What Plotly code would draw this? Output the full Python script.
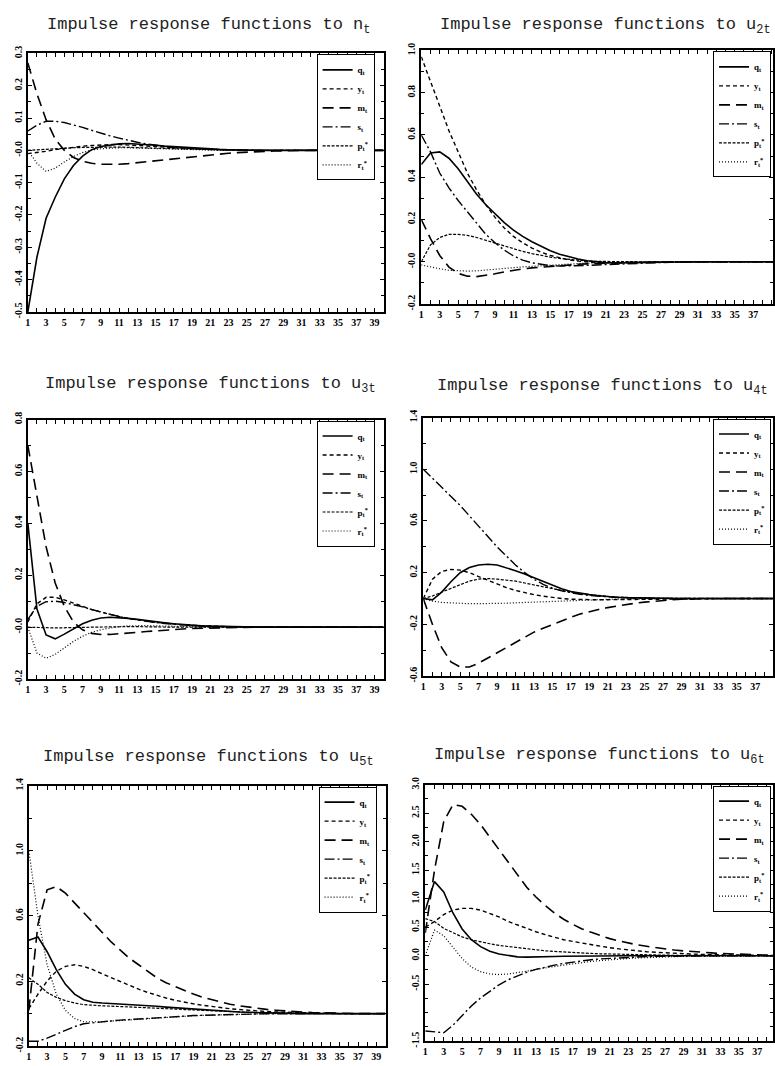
import plotly.graph_objects as go

periods = list(range(1, 41))
var_names = ["q<sub>t</sub>", "y<sub>t</sub>", "m<sub>t</sub>", "s<sub>t</sub>",
             "p<sub>t</sub><sup>*</sup>", "r<sub>t</sub><sup>*</sup>"]
shock_titles = ["n<sub>t</sub>", "u<sub>2t</sub>", "u<sub>3t</sub>",
                "u<sub>4t</sub>", "u<sub>5t</sub>", "u<sub>6t</sub>"]
x_tick_vals = list(range(1, 40, 2))
x_tick_text = [str(v) for v in x_tick_vals]

# ---- Panel 1: shock n_t ----
q1 = [-0.50, -0.33, -0.21, -0.145, -0.088, -0.047, -0.018, 0.002, 0.012, 0.017,
      0.020, 0.021, 0.020, 0.018, 0.016, 0.013, 0.011, 0.009, 0.007, 0.005,
      0.004, 0.003, 0.002, 0.001, 0.001, 0.0, 0.0, 0.0, 0.0, 0.0,
      0.0, 0.0, 0.0, 0.0, 0.0, 0.0, 0.0, 0.0, 0.0, 0.0]
y1 = [-0.010, -0.007, -0.003, 0.002, 0.006, 0.010, 0.013, 0.015, 0.017, 0.018,
      0.018, 0.017, 0.016, 0.014, 0.012, 0.010, 0.008, 0.007, 0.005, 0.004,
      0.003, 0.002, 0.002, 0.001, 0.001, 0.0, 0.0, 0.0, 0.0, 0.0,
      0.0, 0.0, 0.0, 0.0, 0.0, 0.0, 0.0, 0.0, 0.0, 0.0]
m1 = [0.27, 0.175, 0.095, 0.035, 0.0, -0.022, -0.034, -0.040, -0.043, -0.044,
      -0.043, -0.041, -0.038, -0.035, -0.031, -0.028, -0.025, -0.022, -0.019, -0.016,
      -0.013, -0.011, -0.009, -0.007, -0.005, -0.004, -0.003, -0.002, -0.001, 0.0,
      0.0, 0.0, 0.0, 0.0, 0.0, 0.0, 0.0, 0.0, 0.0, 0.0]
s1 = [0.060, 0.078, 0.090, 0.090, 0.086, 0.079, 0.071, 0.062, 0.053, 0.045,
      0.038, 0.031, 0.025, 0.020, 0.016, 0.012, 0.009, 0.007, 0.005, 0.004,
      0.003, 0.002, 0.001, 0.0, 0.0, 0.0, 0.0, 0.0, 0.0, 0.0,
      0.0, 0.0, 0.0, 0.0, 0.0, 0.0, 0.0, 0.0, 0.0, 0.0]
p1 = [0.000, 0.002, 0.004, 0.006, 0.007, 0.008, 0.009, 0.010, 0.010, 0.010,
      0.010, 0.009, 0.009, 0.008, 0.007, 0.006, 0.005, 0.004, 0.003, 0.003,
      0.002, 0.002, 0.001, 0.001, 0.0, 0.0, 0.0, 0.0, 0.0, 0.0,
      0.0, 0.0, 0.0, 0.0, 0.0, 0.0, 0.0, 0.0, 0.0, 0.0]
r1 = [0.000, -0.040, -0.065, -0.055, -0.036, -0.019, -0.007, 0.001, 0.005, 0.007,
      0.008, 0.008, 0.007, 0.006, 0.005, 0.004, 0.003, 0.002, 0.002, 0.001,
      0.001, 0.0, 0.0, 0.0, 0.0, 0.0, 0.0, 0.0, 0.0, 0.0,
      0.0, 0.0, 0.0, 0.0, 0.0, 0.0, 0.0, 0.0, 0.0, 0.0]

# ---- Panel 2: shock u2t ----
q2 = [0.46, 0.515, 0.52, 0.49, 0.44, 0.38, 0.32, 0.27, 0.225, 0.185,
      0.15, 0.12, 0.095, 0.072, 0.052, 0.036, 0.023, 0.013, 0.005, 0.0,
      -0.004, -0.006, -0.006, -0.005, -0.004, -0.003, -0.002, -0.001, 0.0, 0.0,
      0.0, 0.0, 0.0, 0.0, 0.0, 0.0, 0.0, 0.0, 0.0, 0.0]
y2 = [0.97, 0.85, 0.73, 0.62, 0.52, 0.42, 0.34, 0.27, 0.21, 0.16,
      0.12, 0.09, 0.065, 0.045, 0.03, 0.018, 0.009, 0.003, -0.001, -0.004,
      -0.005, -0.005, -0.004, -0.003, -0.002, -0.001, 0.0, 0.0, 0.0, 0.0,
      0.0, 0.0, 0.0, 0.0, 0.0, 0.0, 0.0, 0.0, 0.0, 0.0]
m2 = [0.20, 0.11, 0.03, -0.025, -0.055, -0.068, -0.07, -0.065, -0.057, -0.048,
      -0.04, -0.034, -0.029, -0.025, -0.021, -0.018, -0.015, -0.012, -0.01, -0.008,
      -0.006, -0.005, -0.004, -0.003, -0.002, -0.001, 0.0, 0.0, 0.0, 0.0,
      0.0, 0.0, 0.0, 0.0, 0.0, 0.0, 0.0, 0.0, 0.0, 0.0]
s2 = [0.60, 0.52, 0.42, 0.35, 0.29, 0.235, 0.18, 0.13, 0.09, 0.055,
      0.028, 0.008, -0.005, -0.013, -0.018, -0.02, -0.02, -0.019, -0.017, -0.015,
      -0.013, -0.011, -0.009, -0.007, -0.005, -0.004, -0.003, -0.002, -0.001, 0.0,
      0.0, 0.0, 0.0, 0.0, 0.0, 0.0, 0.0, 0.0, 0.0, 0.0]
p2 = [0.0, 0.08, 0.115, 0.13, 0.13, 0.125, 0.115, 0.102, 0.088, 0.074,
      0.061, 0.049, 0.039, 0.03, 0.022, 0.016, 0.011, 0.007, 0.004, 0.002,
      0.001, 0.0, 0.0, 0.0, 0.0, 0.0, 0.0, 0.0, 0.0, 0.0,
      0.0, 0.0, 0.0, 0.0, 0.0, 0.0, 0.0, 0.0, 0.0, 0.0]
r2 = [-0.015, -0.025, -0.033, -0.04, -0.043, -0.044, -0.043, -0.04, -0.036, -0.032,
      -0.028, -0.024, -0.021, -0.018, -0.015, -0.012, -0.01, -0.008, -0.006, -0.005,
      -0.004, -0.003, -0.002, -0.001, 0.0, 0.0, 0.0, 0.0, 0.0, 0.0,
      0.0, 0.0, 0.0, 0.0, 0.0, 0.0, 0.0, 0.0, 0.0, 0.0]

# ---- Panel 3: shock u3t ----
q3 = [0.40, 0.07, -0.03, -0.045, -0.027, -0.006, 0.013, 0.027, 0.035, 0.038,
      0.037, 0.034, 0.03, 0.025, 0.021, 0.017, 0.013, 0.01, 0.007, 0.005,
      0.004, 0.003, 0.002, 0.001, 0.0, 0.0, 0.0, 0.0, 0.0, 0.0,
      0.0, 0.0, 0.0, 0.0, 0.0, 0.0, 0.0, 0.0, 0.0, 0.0]
y3 = [0.02, 0.09, 0.115, 0.115, 0.105, 0.092, 0.08, 0.068, 0.058, 0.049,
      0.041, 0.034, 0.028, 0.023, 0.019, 0.015, 0.012, 0.009, 0.007, 0.005,
      0.004, 0.003, 0.002, 0.001, 0.0, 0.0, 0.0, 0.0, 0.0, 0.0,
      0.0, 0.0, 0.0, 0.0, 0.0, 0.0, 0.0, 0.0, 0.0, 0.0]
m3 = [0.70, 0.50, 0.31, 0.17, 0.08, 0.02, -0.01, -0.024, -0.028, -0.028,
      -0.026, -0.023, -0.02, -0.017, -0.014, -0.011, -0.009, -0.007, -0.005, -0.004,
      -0.003, -0.002, -0.001, 0.0, 0.0, 0.0, 0.0, 0.0, 0.0, 0.0,
      0.0, 0.0, 0.0, 0.0, 0.0, 0.0, 0.0, 0.0, 0.0, 0.0]
s3 = [0.03, 0.08, 0.098, 0.1, 0.095, 0.087, 0.078, 0.068, 0.058, 0.049,
      0.041, 0.034, 0.028, 0.023, 0.018, 0.014, 0.011, 0.008, 0.006, 0.004,
      0.003, 0.002, 0.001, 0.0, 0.0, 0.0, 0.0, 0.0, 0.0, 0.0,
      0.0, 0.0, 0.0, 0.0, 0.0, 0.0, 0.0, 0.0, 0.0, 0.0]
p3 = [0.0, 0.0, -0.002, -0.003, -0.003, -0.002, -0.001, 0.0, 0.001, 0.002,
      0.002, 0.002, 0.002, 0.001, 0.001, 0.0, 0.0, 0.0, 0.0, 0.0,
      0.0, 0.0, 0.0, 0.0, 0.0, 0.0, 0.0, 0.0, 0.0, 0.0,
      0.0, 0.0, 0.0, 0.0, 0.0, 0.0, 0.0, 0.0, 0.0, 0.0]
r3 = [0.0, -0.10, -0.12, -0.105, -0.08, -0.055, -0.035, -0.02, -0.01, -0.003,
      0.002, 0.005, 0.006, 0.006, 0.005, 0.004, 0.003, 0.002, 0.001, 0.0,
      0.0, 0.0, 0.0, 0.0, 0.0, 0.0, 0.0, 0.0, 0.0, 0.0,
      0.0, 0.0, 0.0, 0.0, 0.0, 0.0, 0.0, 0.0, 0.0, 0.0]

# ---- Panel 4: shock u4t ----
q4 = [0.0, -0.01, 0.05, 0.13, 0.2, 0.24, 0.26, 0.265, 0.26, 0.24,
      0.215, 0.19, 0.16, 0.13, 0.1, 0.075, 0.055, 0.04, 0.03, 0.022,
      0.015, 0.01, 0.007, 0.005, 0.003, 0.002, 0.001, 0.0, 0.0, 0.0,
      0.0, 0.0, 0.0, 0.0, 0.0, 0.0, 0.0, 0.0, 0.0, 0.0]
y4 = [0.0, 0.15, 0.21, 0.225, 0.22, 0.2, 0.17, 0.14, 0.11, 0.085,
      0.063, 0.045, 0.03, 0.018, 0.008, 0.0, -0.005, -0.008, -0.01, -0.01,
      -0.009, -0.008, -0.006, -0.005, -0.003, -0.002, -0.001, 0.0, 0.0, 0.0,
      0.0, 0.0, 0.0, 0.0, 0.0, 0.0, 0.0, 0.0, 0.0, 0.0]
m4 = [0.0, -0.2, -0.38, -0.49, -0.53, -0.53, -0.5, -0.46, -0.42, -0.38,
      -0.34, -0.3, -0.26, -0.23, -0.2, -0.17, -0.145, -0.12, -0.1, -0.085,
      -0.07, -0.057, -0.046, -0.036, -0.028, -0.021, -0.015, -0.01, -0.006, -0.003,
      -0.001, 0.0, 0.0, 0.0, 0.0, 0.0, 0.0, 0.0, 0.0, 0.0]
s4 = [1.0, 0.93, 0.86, 0.79, 0.72, 0.64, 0.56, 0.48, 0.4, 0.33,
      0.26, 0.2, 0.15, 0.11, 0.08, 0.06, 0.045, 0.033, 0.024, 0.017,
      0.012, 0.008, 0.005, 0.003, 0.002, 0.001, 0.0, 0.0, 0.0, 0.0,
      0.0, 0.0, 0.0, 0.0, 0.0, 0.0, 0.0, 0.0, 0.0, 0.0]
p4 = [0.0, 0.02, 0.05, 0.08, 0.11, 0.135, 0.15, 0.155, 0.15, 0.145,
      0.135, 0.12, 0.105, 0.09, 0.075, 0.06, 0.048, 0.038, 0.03, 0.023,
      0.017, 0.012, 0.008, 0.005, 0.003, 0.002, 0.001, 0.0, 0.0, 0.0,
      0.0, 0.0, 0.0, 0.0, 0.0, 0.0, 0.0, 0.0, 0.0, 0.0]
r4 = [0.0, -0.02, -0.03, -0.035, -0.038, -0.04, -0.04, -0.04, -0.038, -0.036,
      -0.033, -0.03, -0.027, -0.023, -0.02, -0.017, -0.014, -0.011, -0.009, -0.007,
      -0.005, -0.004, -0.003, -0.002, -0.001, 0.0, 0.0, 0.0, 0.0, 0.0,
      0.0, 0.0, 0.0, 0.0, 0.0, 0.0, 0.0, 0.0, 0.0, 0.0]

# ---- Panel 5: shock u5t ----
q5 = [0.45, 0.47, 0.38, 0.27, 0.18, 0.12, 0.085, 0.07, 0.065, 0.062,
      0.06, 0.057, 0.053, 0.049, 0.045, 0.04, 0.036, 0.031, 0.027, 0.023,
      0.019, 0.016, 0.013, 0.01, 0.008, 0.006, 0.004, 0.003, 0.002, 0.001,
      0.0, 0.0, 0.0, 0.0, 0.0, 0.0, 0.0, 0.0, 0.0, 0.0]
y5 = [0.03, 0.12, 0.2, 0.26, 0.29, 0.3, 0.29, 0.27, 0.245, 0.22,
      0.195, 0.17, 0.15, 0.13, 0.112, 0.096, 0.082, 0.07, 0.06, 0.051,
      0.043, 0.036, 0.03, 0.025, 0.02, 0.016, 0.013, 0.01, 0.008, 0.006,
      0.004, 0.003, 0.002, 0.001, 0.0, 0.0, 0.0, 0.0, 0.0, 0.0]
m5 = [0.02, 0.55, 0.76, 0.78, 0.74, 0.68, 0.62, 0.56, 0.5, 0.44,
      0.39, 0.34, 0.3, 0.26, 0.22, 0.19, 0.165, 0.14, 0.12, 0.1,
      0.085, 0.07, 0.058, 0.048, 0.04, 0.032, 0.026, 0.021, 0.016, 0.012,
      0.009, 0.006, 0.004, 0.002, 0.001, 0.0, 0.0, 0.0, 0.0, 0.0]
s5 = [-0.17, -0.17, -0.15, -0.125, -0.1, -0.08, -0.062, -0.055, -0.05, -0.045,
      -0.04, -0.036, -0.032, -0.028, -0.024, -0.021, -0.018, -0.015, -0.012, -0.01,
      -0.008, -0.006, -0.005, -0.004, -0.003, -0.002, -0.001, 0.0, 0.0, 0.0,
      0.0, 0.0, 0.0, 0.0, 0.0, 0.0, 0.0, 0.0, 0.0, 0.0]
p5 = [0.22, 0.18, 0.13, 0.1, 0.08, 0.065, 0.055, 0.05, 0.048, 0.046,
      0.044, 0.042, 0.04, 0.037, 0.034, 0.031, 0.028, 0.025, 0.022, 0.019,
      0.016, 0.014, 0.012, 0.01, 0.008, 0.006, 0.005, 0.004, 0.003, 0.002,
      0.001, 0.0, 0.0, 0.0, 0.0, 0.0, 0.0, 0.0, 0.0, 0.0]
r5 = [1.0, 0.6, 0.3, 0.12, 0.02, -0.03, -0.05, -0.052, -0.05, -0.046,
      -0.042, -0.038, -0.034, -0.03, -0.026, -0.022, -0.019, -0.016, -0.013, -0.011,
      -0.009, -0.007, -0.005, -0.004, -0.003, -0.002, -0.001, 0.0, 0.0, 0.0,
      0.0, 0.0, 0.0, 0.0, 0.0, 0.0, 0.0, 0.0, 0.0, 0.0]

# ---- Panel 6: shock u6t ----
q6 = [0.8, 1.3, 1.12, 0.75, 0.47, 0.28, 0.16, 0.08, 0.03, 0.0,
      -0.02, -0.025, -0.025, -0.02, -0.015, -0.01, -0.007, -0.004, -0.002, 0.0,
      0.0, 0.0, 0.0, 0.0, 0.0, 0.0, 0.0, 0.0, 0.0, 0.0,
      0.0, 0.0, 0.0, 0.0, 0.0, 0.0, 0.0, 0.0, 0.0, 0.0]
y6 = [0.5, 0.6, 0.72, 0.8, 0.83, 0.83, 0.8, 0.74, 0.68, 0.6,
      0.54, 0.47, 0.42, 0.37, 0.32, 0.28, 0.25, 0.22, 0.19, 0.165,
      0.14, 0.12, 0.1, 0.085, 0.07, 0.06, 0.05, 0.04, 0.033, 0.027,
      0.022, 0.018, 0.014, 0.011, 0.008, 0.006, 0.004, 0.003, 0.002, 0.001]
m6 = [0.4, 1.5, 2.35, 2.65, 2.62, 2.48, 2.3, 2.08, 1.85, 1.62,
      1.4, 1.2, 1.03, 0.88, 0.75, 0.64, 0.55, 0.47, 0.41, 0.35,
      0.3, 0.26, 0.22, 0.19, 0.165, 0.14, 0.12, 0.1, 0.085, 0.07,
      0.06, 0.05, 0.04, 0.032, 0.025, 0.02, 0.015, 0.01, 0.007, 0.005]
s6 = [-1.32, -1.34, -1.35, -1.22, -1.05, -0.88, -0.74, -0.62, -0.51, -0.42,
      -0.35, -0.29, -0.24, -0.2, -0.165, -0.135, -0.11, -0.09, -0.07, -0.055,
      -0.045, -0.035, -0.027, -0.02, -0.015, -0.011, -0.008, -0.006, -0.004, -0.003,
      -0.002, -0.001, 0.0, 0.0, 0.0, 0.0, 0.0, 0.0, 0.0, 0.0]
p6 = [0.65, 0.6, 0.48, 0.4, 0.33, 0.28, 0.24, 0.21, 0.18, 0.16,
      0.14, 0.12, 0.1, 0.087, 0.075, 0.064, 0.055, 0.047, 0.04, 0.034,
      0.029, 0.025, 0.021, 0.018, 0.015, 0.012, 0.01, 0.008, 0.006, 0.005,
      0.004, 0.003, 0.002, 0.001, 0.0, 0.0, 0.0, 0.0, 0.0, 0.0]
r6 = [0.0, 0.45, 0.35, 0.15, -0.05, -0.2, -0.28, -0.32, -0.33, -0.32,
      -0.3, -0.27, -0.24, -0.21, -0.19, -0.165, -0.14, -0.12, -0.1, -0.085,
      -0.07, -0.058, -0.048, -0.04, -0.032, -0.025, -0.02, -0.015, -0.011, -0.008,
      -0.006, -0.004, -0.003, -0.002, -0.001, 0.0, 0.0, 0.0, 0.0, 0.0]

panel_series = [
    [q1, y1, m1, s1, p1, r1],
    [q2, y2, m2, s2, p2, r2],
    [q3, y3, m3, s3, p3, r3],
    [q4, y4, m4, s4, p4, r4],
    [q5, y5, m5, s5, p5, r5],
    [q6, y6, m6, s6, p6, r6],
]

# y-axis ticks per panel
y_ranges = [[-0.5, 0.3], [-0.2, 1.0], [-0.2, 0.8], [-0.6, 1.4], [-0.2, 1.4], [-1.5, 3.0]]
y_tick_vals = [
    [-0.5, -0.4, -0.3, -0.2, -0.1, 0.0, 0.1, 0.2, 0.3],
    [-0.2, 0.0, 0.2, 0.4, 0.6, 0.8, 1.0],
    [-0.2, 0.0, 0.2, 0.4, 0.6, 0.8],
    [-0.6, -0.2, 0.2, 0.6, 1.0, 1.4],
    [-0.2, 0.2, 0.6, 1.0, 1.4],
    [-1.5, -0.5, 0.0, 0.5, 1.0, 1.5, 2.0, 2.5, 3.0],
]
y_tick_text = [
    ["-0.5", "-0.4", "-0.3", "-0.2", "-0.1", "-0.0", "0.1", "0.2", "0.3"],
    ["-0.2", "-0.0", "0.2", "0.4", "0.6", "0.8", "1.0"],
    ["-0.2", "-0.0", "0.2", "0.4", "0.6", "0.8"],
    ["-0.6", "-0.2", "0.2", "0.6", "1.0", "1.4"],
    ["-0.2", "0.2", "0.6", "1.0", "1.4"],
    ["-1.5", "-0.5", "0.0", "0.5", "1.0", "1.5", "2.0", "2.5", "3.0"],
]
y_minor = [0.05, 0.1, 0.1, 0.2, 0.2, 0.25]

# ---- layout geometry (pixels) ----
W, H = 775, 1066
# (left, right, top, bottom) of each plotting area, x range end
boxes = [
    (25, 383, 46, 308, 40.0),
    (421, 775, 43, 300, 39.15),
    (25, 383, 417, 680, 40.0),
    (423, 775, 415, 677, 38.93),
    (26, 385, 788, 1052, 40.0),
    (425, 775, 787, 1047, 38.7),
]
title_pos = [(207, 18), (606, 18), (209, 382), (603, 384), (207, 760), (600, 758)]

dashes = ["solid", "4px,3px", "11px,6px", "10px,3px,2px,3px", "3px,1.5px", "1px,2px"]
widths = [1.6, 1.4, 1.6, 1.4, 1.2, 1.2]

fig = go.Figure()

for i in range(6):
    ax = "" if i == 0 else str(i + 1)
    leg = "legend" if i == 0 else "legend" + str(i + 1)
    for j in range(6):
        fig.add_trace(go.Scatter(
            x=periods, y=panel_series[i][j], mode="lines",
            name=var_names[j],
            line=dict(color="black", width=widths[j], dash=dashes[j]),
            xaxis="x" + ax, yaxis="y" + ax, legend=leg,
            showlegend=True,
        ))

layout = dict(
    width=W, height=H,
    margin=dict(l=0, r=0, t=0, b=0),
    paper_bgcolor="white", plot_bgcolor="white",
    annotations=[],
)

tickfont = dict(family="Liberation Serif", size=10, color="black", weight="bold")

for i in range(6):
    l, r, t, b, xend = boxes[i]
    ax = "" if i == 0 else str(i + 1)
    layout["xaxis" + ax] = dict(
        domain=[l / W, r / W], range=[1, xend], anchor="y" + ax,
        tickmode="array", tickvals=x_tick_vals, ticktext=x_tick_text,
        ticks="inside", ticklen=4, tickwidth=1, tickcolor="black",
        minor=dict(ticks="inside", ticklen=4, dtick=1, tick0=1, tickcolor="black"),
        showline=True, linecolor="black", linewidth=2, mirror="ticks",
        showgrid=False, zeroline=False, tickfont=tickfont, tickangle=0,
    )
    layout["yaxis" + ax] = dict(
        domain=[1 - b / H, 1 - t / H], range=y_ranges[i], anchor="x" + ax,
        tickmode="array", tickvals=y_tick_vals[i], ticktext=y_tick_text[i],
        ticks="inside", ticklen=4, tickwidth=1, tickcolor="black",
        minor=dict(ticks="inside", ticklen=3, dtick=y_minor[i], tick0=0, tickcolor="black"),
        showline=True, linecolor="black", linewidth=2, mirror="ticks",
        showgrid=False, zeroline=False, tickfont=tickfont, tickangle=-90,
    )
    leg = "legend" if i == 0 else "legend" + str(i + 1)
    layout[leg] = dict(
        x=(r - 9) / W if r < W else (r - 2) / W, y=1 - (t + 1) / H,
        xanchor="right", yanchor="top",
        bgcolor="white", bordercolor="black", borderwidth=1,
        font=dict(family="Liberation Serif", size=9, color="black", weight="bold"),
        tracegroupgap=0, itemwidth=30,
    )
    tx, ty = title_pos[i]
    layout["annotations"].append(dict(
        text="Impulse response functions to " + shock_titles[i],
        x=tx / W, y=1 - ty / H, xref="paper", yref="paper",
        xanchor="center", yanchor="middle", showarrow=False,
        font=dict(family="Liberation Mono", size=17, color="#222222"),
    ))

fig.update_layout(**layout)
fig.write_html("out.html")
